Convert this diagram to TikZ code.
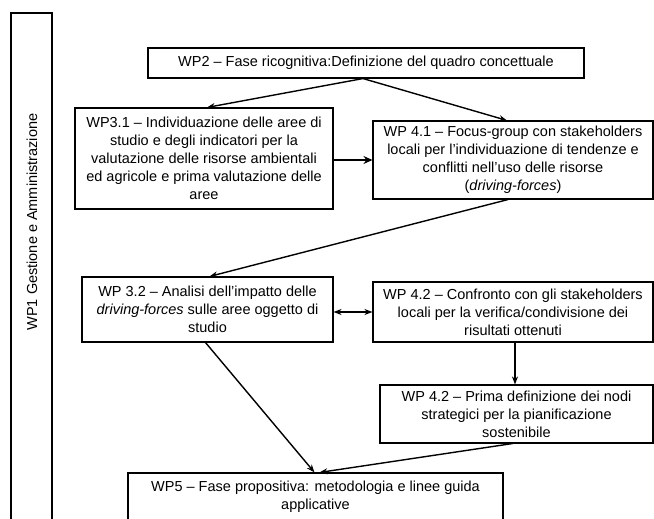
\documentclass[tikz,border=0pt]{standalone}
\usepackage{fontspec}
\setmainfont{Liberation Sans}
\usetikzlibrary{arrows.meta,calc}
\begin{document}
\begin{tikzpicture}[x=1pt,y=-1pt,
  txt/.style={font=\fontsize{14.5}{18}\selectfont},
  box/.style={draw, line width=1.1pt, align=center, inner sep=0pt, txt},
  link/.style={line width=1.4pt, -{Stealth[length=8pt,width=6pt]}},
  thicklink/.style={line width=2.8pt, -{Stealth[length=9pt,width=8pt]}},
  twolink/.style={line width=1.4pt, {Stealth[length=8pt,width=6pt]}-{Stealth[length=8pt,width=6pt]}}]
\useasboundingbox (0,0) rectangle (654,519);
\clip (0,0) rectangle (654,519);

% side frame for the management work package
\node[box, minimum width=41pt, minimum height=512pt] (wp1) at (31.5,269) {};
\node[txt, rotate=90] (wp1label) at (32,222) {WP1 Gestione e Amministrazione};

% work package boxes
\node[box, minimum width=436pt, minimum height=30pt] (wp2) at (366,63)
  {WP2 – Fase ricognitiva:Definizione del quadro concettuale};
\node[box, minimum width=258pt, minimum height=101pt] (wp31) at (204,158.5)
  {WP3.1 – Individuazione delle aree di\\ studio e degli indicatori per la\\ valutazione delle risorse ambientali\\ ed agricole e prima valutazione delle\\ aree};
\node[box, minimum width=280pt, minimum height=78pt] (wp41) at (513,160)
  {WP 4.1 – Focus-group con stakeholders\\ locali per l'individuazione di tendenze e\\ conflitti nell'uso delle risorse\\ (\textit{driving-forces})};
\node[box, minimum width=251pt, minimum height=65pt] (wp32) at (207.5,309.5)
  {WP 3.2 – Analisi dell'impatto delle\\ \textit{driving-forces} sulle aree oggetto di\\ studio};
\node[box, minimum width=280pt, minimum height=60pt] (wp42a) at (513,312)
  {WP 4.2 – Confronto con gli stakeholders\\ locali per la verifica/condivisione dei\\ risultati ottenuti};
\node[box, minimum width=273pt, minimum height=58pt] (wp42b) at (516.5,414)
  {WP 4.2 – Prima definizione dei nodi\\ strategici per la pianificazione\\ sostenibile};
\node[box, minimum width=375pt, minimum height=48pt] (wp5) at (315.5,497)
  {WP5 – Fase propositiva: metodologia e linee guida\\ applicative};

% connectors
\coordinate (fork) at ($(wp2.south)+(-3,0)$);
\draw[link] (fork) -- ($(wp31.north)+(3,0)$);
\draw[link] (fork) -- ($(wp41.north)+(-6,0)$);
\draw[thicklink] (wp31.east |- wp41.west) -- (wp41.west);
\draw[link] ($(wp41.south)+(-5,0)$) -- ($(wp32.north)+(2,0)$);
\draw[twolink] (wp32.east |- wp42a.west) -- (wp42a.west);
\coordinate (down) at ($(wp42a.south)+(2,0)$);
\draw[link] (down) -- (down |- wp42b.north);
\draw[link] ($(wp32.south)+(-2,0)$) -- ($(wp5.north)+(-1,0)$);
\draw[link] ($(wp42b.south)+(-4,0)$) -- ($(wp5.north)+(4,0)$);
\end{tikzpicture}
\end{document}
